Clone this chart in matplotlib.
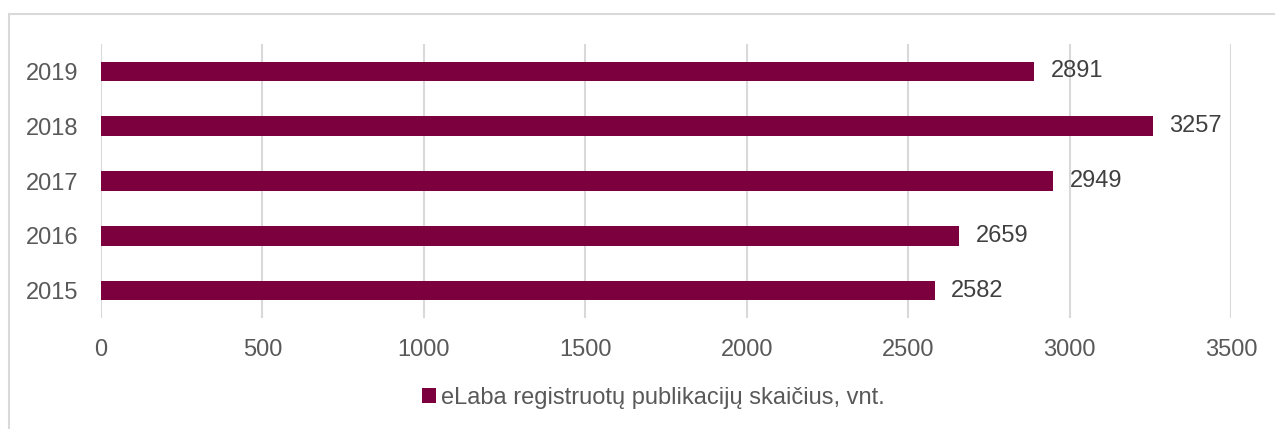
import matplotlib
matplotlib.use("Agg")
import matplotlib.pyplot as plt
from matplotlib.patches import Rectangle, Patch

years = ["2015", "2016", "2017", "2018", "2019"]
values = [2582, 2659, 2949, 3257, 2891]
legend_label = "eLaba registruotų publikacijų skaičius, vnt."
xticks = [0, 500, 1000, 1500, 2000, 2500, 3000, 3500]

plt.rcParams['font.family'] = ['Liberation Sans', 'DejaVu Sans']

W, H = 1275, 429
fig = plt.figure(figsize=(W / 100, H / 100), dpi=100)
fig.patch.set_facecolor("white")

# outer chart border (right and bottom edges lie outside the image)
fig.patches.append(Rectangle((9 / W, -0.05), (W - 9) / W + 0.05, (H - 14) / H + 0.05,
                             transform=fig.transFigure, fill=False,
                             edgecolor="#d9d9d9", linewidth=1.5))

ax = fig.add_axes([101 / W, 1 - 318 / H, (1231 - 101) / W, (318 - 44) / H])
color = "#7B003D"
ax.barh(range(len(years)), values, height=0.36, color=color, zorder=3)
ax.set_xlim(0, 3500)
ax.set_ylim(-0.5, len(years) - 0.5)
ax.set_xticks(xticks)
ax.set_xticklabels([str(t) for t in xticks])
ax.set_yticks(range(len(years)))
ax.set_yticklabels(years)
ax.tick_params(axis="both", length=0, labelsize=17, labelcolor="#595959")
ax.tick_params(axis="x", pad=15)
ax.tick_params(axis="y", pad=16)
for s in ax.spines.values():
    s.set_visible(False)
ax.grid(axis="x", color="#d9d9d9", linewidth=1.5, zorder=0)
ax.set_axisbelow(True)

for i, v in enumerate(values):
    ax.annotate(str(v), (v, i), xytext=(12, 0), textcoords="offset points",
                va="center", ha="left", fontsize=17, color="#404040")

handle = Patch(facecolor=color, edgecolor="none")
fig.legend([handle], [legend_label], loc="center", bbox_to_anchor=(653 / W, 1 - 398 / H),
           frameon=False, fontsize=17, handlelength=0.6, handleheight=0.6,
           handletextpad=0.2, labelcolor="#595959")

fig.savefig("out.png", dpi=100, facecolor="white")
